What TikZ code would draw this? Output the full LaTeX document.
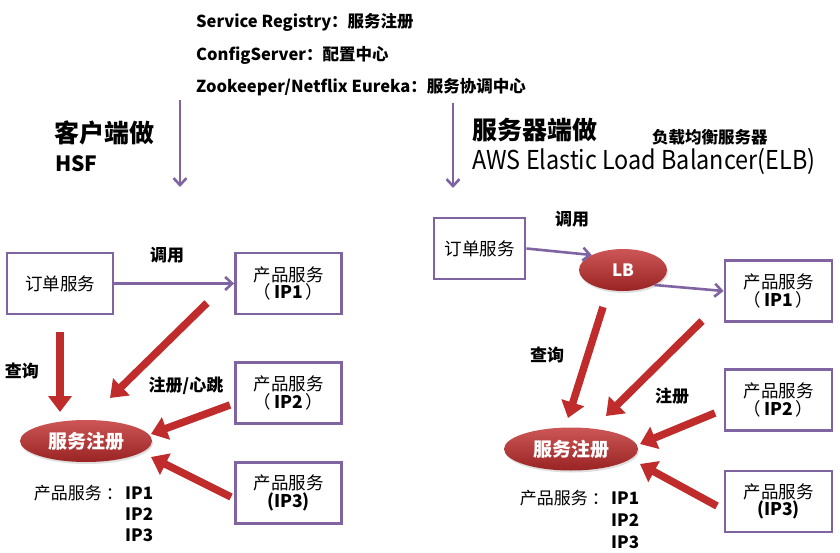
\documentclass[tikz,border=0pt]{standalone}
\usepackage{fontspec}
\setmainfont{Noto Sans CJK SC}
\usetikzlibrary{arrows.meta,positioning,shapes.geometric,shadows}

\definecolor{boxpurple}{RGB}{128,100,162}
\definecolor{regred}{RGB}{192,44,44}
\newcommand{\fs}[1]{\fontsize{#1}{#1}\selectfont}

\begin{document}
\begin{tikzpicture}[x=1pt, y=-1pt, every node/.style={inner sep=1pt},
  svcbox/.style={draw=boxpurple, line width=2.8pt, fill=white, align=center, minimum height=61pt, inner sep=2pt, font=\fs{17.5}},
  regnode/.style={ellipse, top color=regred!80!white, bottom color=regred!80!black, draw=none, text=white, font=\bfseries\fs{19}, drop shadow={opacity=0.25, shadow xshift=1pt, shadow yshift=-2pt}},
  lbl/.style={font=\bfseries\fs{17}},
  callarrow/.style={draw=boxpurple, line width=2.6pt, -{Straight Barb[length=7pt,width=13pt]}},
  regarrow/.style={draw=regred, line width=7.5pt, -{Triangle[length=16pt,width=23pt]}}]
\fill[white] (0,0) rectangle (840,553);
\useasboundingbox (0,0) rectangle (840,553);

% top notes
\node[anchor=west, font=\bfseries\fs{16.5}] (note1) at (195,22) {Service Registry：服务注册};
\node[anchor=west, font=\bfseries\fs{16.5}] (note2) at (195,55) {ConfigServer：配置中心};
\node[anchor=west, font=\bfseries\fs{16.5}] (note3) at (195,87) {Zookeeper/Netflix Eureka：服务协调中心};

% left: client side
\node[anchor=west, font=\bfseries\fs{25}] (headL) at (53,133) {客户端做};
\node[anchor=west, font=\bfseries\fs{21}] (hsf) at (54,164) {HSF};
\coordinate (downL0) at (180,100);
\coordinate (downL1) at (180,187);
\draw[callarrow] (downL0) -- (downL1);

\node[svcbox, minimum width=106pt] (orderL) at (60,283.5) {订单服务};
\node[svcbox, minimum width=106pt] (ip1L) at (288.5,283.5) {产品服务\\（\,\textbf{IP1}\,）};
\node[svcbox, minimum width=106pt] (ip2L) at (288.5,393) {产品服务\\（\,\textbf{IP2}\,）};
\node[svcbox, minimum width=106pt] (ip3L) at (288.5,493) {产品服务\\\textbf{(IP3)}};
\node[regnode, minimum width=132pt, minimum height=42pt] (regL) at (86,441) {服务注册};

\draw[callarrow] (orderL) -- (ip1L);
\node[lbl] (callL) at (167,255) {调用};
\node[lbl] (queryL) at (22,371) {查询};
\node[lbl] (beatL) at (186,386) {注册/心跳};

\coordinate (q0L) at (60,332);
\coordinate (q1L) at (60,412);
\coordinate (a0L) at (207,303);
\coordinate (a1L) at (110,398);
\coordinate (b0L) at (230,405);
\coordinate (b1L) at (151,434);
\coordinate (c0L) at (231,497);
\coordinate (c1L) at (151,457);
\draw[regarrow] (q0L) -- (q1L);
\draw[regarrow] (a0L) -- (a1L);
\draw[regarrow] (b0L) -- (b1L);
\draw[regarrow] (c0L) -- (c1L);

\node[anchor=base west, font=\bfseries\fs{17}] (ipa1) at (124,499) {IP1};
\node[anchor=base east, font=\fs{17}] (ipaname) at (ipa1.base west) {产品服务 ：};
\node[anchor=base west, font=\bfseries\fs{17}] (ipa2) at (124,520) {IP2};
\node[anchor=base west, font=\bfseries\fs{17}] (ipa3) at (124,541) {IP3};

% right: server side
\node[anchor=west, font=\bfseries\fs{25}] (headR) at (471,130) {服务器端做};
\node[anchor=west, font=\bfseries\fs{16.5}] (elbcn) at (651,137) {负载均衡服务器};
\node[anchor=west, font=\fs{26}] (elb) at (471,161) {\scalebox{0.9}[1]{AWS Elastic Load Balancer(ELB)}};
\coordinate (downR0) at (453,103);
\coordinate (downR1) at (453,188);
\draw[callarrow] (downR0) -- (downR1);

\node[svcbox, minimum width=91pt] (orderR) at (479.5,248.5) {订单服务};
\node[regnode, minimum width=88pt, minimum height=42pt, font=\bfseries\fs{17}] (lb) at (623,270) {LB};
\node[svcbox, minimum width=107pt] (ip1R) at (778.5,291) {产品服务\\（\,\textbf{IP1}\,）};
\node[svcbox, minimum width=107pt] (ip2R) at (778.5,400) {产品服务\\（\,\textbf{IP2}\,）};
\node[svcbox, minimum width=107pt] (ip3R) at (778.5,501.5) {产品服务\\\textbf{(IP3)}};
\node[regnode, minimum width=134pt, minimum height=43pt] (regR) at (571,449) {服务注册};

\draw[callarrow] (orderR.east) -- (lb.north west);
\draw[callarrow] (lb.south east) -- (ip1R.west);
\node[lbl] (callR) at (572,219) {调用};
\node[lbl] (queryR) at (547,355) {查询};
\node[lbl] (signR) at (672,396) {注册};

\coordinate (q0R) at (603,307);
\coordinate (q1R) at (568,418);
\coordinate (a0R) at (702,321);
\coordinate (a1R) at (606,416);
\coordinate (b0R) at (715,413);
\coordinate (b1R) at (640,444);
\coordinate (c0R) at (717,506);
\coordinate (c1R) at (640,464);
\draw[regarrow] (q0R) -- (q1R);
\draw[regarrow] (a0R) -- (a1R);
\draw[regarrow] (b0R) -- (b1R);
\draw[regarrow] (c0R) -- (c1R);

\node[anchor=base west, font=\bfseries\fs{17}] (ipb1) at (610,504) {IP1};
\node[anchor=base east, font=\fs{17}] (ipbname) at (ipb1.base west) {产品服务 ：};
\node[anchor=base west, font=\bfseries\fs{17}] (ipb2) at (610,526) {IP2};
\node[anchor=base west, font=\bfseries\fs{17}] (ipb3) at (610,548) {IP3};
\end{tikzpicture}
\end{document}
